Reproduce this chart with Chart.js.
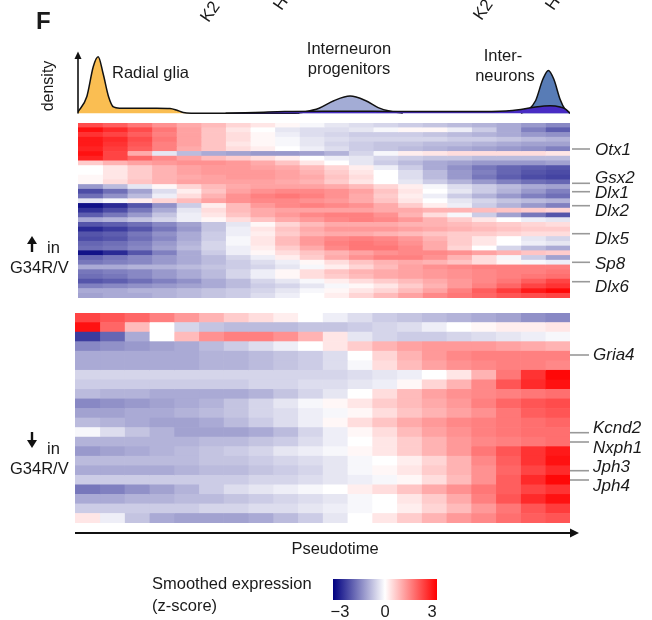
<!DOCTYPE html>
<html>
<head>
<meta charset="utf-8">
<script src="https://cdn.jsdelivr.net/npm/chart.js@4.4.1/dist/chart.umd.min.js"></script>
<style>
  html, body { margin:0; padding:0; background:#fff; }
  body { width:652px; height:620px; position:relative; overflow:hidden;
         font-family:"Liberation Sans", Arial, Helvetica, sans-serif; color:#1a1a1a; }
  .box { position:absolute; }
  .t { position:absolute; white-space:nowrap; line-height:1; font-size:16.5px; }
  .c { transform:translateY(-50%); }
  .gene { position:absolute; white-space:nowrap; line-height:1; font-size:17px; font-style:italic; transform:translateY(-50%); }
  svg { position:absolute; left:0; top:0; }
</style>
</head>
<body>

<!-- chart containers -->
<div class="box" id="densBox" style="left:78px;top:45px;width:492px;height:70px;"><canvas id="dens"></canvas></div>
<div class="box" id="hm1Box" style="left:78px;top:123px;width:492px;height:175px;"><canvas id="hm1"></canvas></div>
<div class="box" id="hm2Box" style="left:75px;top:313px;width:495px;height:210px;"><canvas id="hm2"></canvas></div>

<!-- decorations: arrows and gene tick lines -->
<svg width="652" height="620" viewBox="0 0 652 620">
  <!-- density axis arrow -->
  <line x1="78" y1="113.5" x2="78" y2="58" stroke="#111" stroke-width="1.6"/>
  <polygon points="74.5,59 81.5,59 78,51.5" fill="#111"/>
  <!-- pseudotime arrow -->
  <line x1="75" y1="533" x2="571" y2="533" stroke="#111" stroke-width="2"/>
  <polygon points="570,528.5 570,537.5 579,533" fill="#111"/>
  <!-- up arrow -->
  <line x1="32" y1="252" x2="32" y2="242" stroke="#111" stroke-width="2.4"/>
  <polygon points="27,244 37,244 32,236" fill="#111"/>
  <!-- down arrow -->
  <line x1="32" y1="432" x2="32" y2="442" stroke="#111" stroke-width="2.4"/>
  <polygon points="27,440 37,440 32,448" fill="#111"/>
  <!-- gene ticks -->
  <g stroke="#999" stroke-width="1.6">
    <line x1="572" y1="149" x2="590" y2="149"/>
    <line x1="572" y1="183.3" x2="590" y2="183.3"/>
    <line x1="572" y1="191.7" x2="590" y2="191.7"/>
    <line x1="572" y1="205.7" x2="590" y2="205.7"/>
    <line x1="572" y1="233.7" x2="590" y2="233.7"/>
    <line x1="572" y1="262.3" x2="590" y2="262.3"/>
    <line x1="572" y1="281.7" x2="590" y2="281.7"/>
    <line x1="570" y1="355" x2="589" y2="355"/>
    <line x1="570" y1="432.7" x2="589" y2="432.7"/>
    <line x1="570" y1="442" x2="589" y2="442"/>
    <line x1="570" y1="470.7" x2="589" y2="470.7"/>
    <line x1="570" y1="480" x2="589" y2="480"/>
  </g>
</svg>

<!-- texts -->
<div class="t" style="left:36px;top:9px;font-size:24px;font-weight:bold;">F</div>
<div class="t" style="left:211px;top:8px;font-size:17px;transform-origin:0 100%;transform:rotate(-55deg);">K2</div>
<div class="t" style="left:284px;top:-4px;font-size:17px;transform-origin:0 100%;transform:rotate(-55deg);">H</div>
<div class="t" style="left:484px;top:6px;font-size:17px;transform-origin:0 100%;transform:rotate(-55deg);">K2</div>
<div class="t" style="left:556px;top:-4px;font-size:17px;transform-origin:0 100%;transform:rotate(-55deg);">H</div>

<div class="t" style="left:48px;top:86px;font-size:16px;transform:translate(-50%,-50%) rotate(-90deg);">density</div>
<div class="t c" style="left:112px;top:72px;">Radial glia</div>
<div class="t" style="left:349px;top:48px;text-align:center;transform:translate(-50%,-50%);">Interneuron</div>
<div class="t" style="left:349px;top:68px;text-align:center;transform:translate(-50%,-50%);">progenitors</div>
<div class="t" style="left:503px;top:55px;transform:translate(-50%,-50%);">Inter-</div>
<div class="t" style="left:505px;top:75px;transform:translate(-50%,-50%);">neurons</div>

<div class="t c" style="left:47px;top:247px;">in</div>
<div class="t c" style="left:10px;top:267px;">G34R/V</div>
<div class="t c" style="left:47px;top:448px;">in</div>
<div class="t c" style="left:10px;top:468px;">G34R/V</div>

<div class="gene" style="left:595px;top:149px;">Otx1</div>
<div class="gene" style="left:595px;top:176.5px;">Gsx2</div>
<div class="gene" style="left:595px;top:192px;">Dlx1</div>
<div class="gene" style="left:595px;top:210px;">Dlx2</div>
<div class="gene" style="left:595px;top:238px;">Dlx5</div>
<div class="gene" style="left:595px;top:262.5px;">Sp8</div>
<div class="gene" style="left:595px;top:286px;">Dlx6</div>
<div class="gene" style="left:593px;top:353.5px;">Gria4</div>
<div class="gene" style="left:593px;top:426.5px;">Kcnd2</div>
<div class="gene" style="left:593px;top:446.5px;">Nxph1</div>
<div class="gene" style="left:593px;top:466px;">Jph3</div>
<div class="gene" style="left:593px;top:485px;">Jph4</div>

<div class="t" style="left:335px;top:548px;transform:translate(-50%,-50%);">Pseudotime</div>

<div class="t c" style="left:152px;top:583px;">Smoothed expression</div>
<div class="t c" style="left:152px;top:605px;">(z-score)</div>
<div class="box" style="left:333px;top:579px;width:104px;height:21px;background:linear-gradient(to right, rgb(0,0,128), #ffffff 50%, #ff0000);"></div>
<div class="t" style="left:340px;top:611px;transform:translate(-50%,-50%);">&minus;3</div>
<div class="t" style="left:385px;top:611px;transform:translate(-50%,-50%);">0</div>
<div class="t" style="left:432px;top:611px;transform:translate(-50%,-50%);">3</div>

<script>
// ---------------- DATA ----------------
// Density along pseudotime (x = pseudotime 0..1, y = relative density)
const radialGliaT = [0, 0.018, 0.031, 0.041, 0.051, 0.062, 0.072, 0.085, 0.12, 0.16, 0.187, 0.2, 0.214, 0.23, 0.3, 0.45];
const radialGliaD = [0.02, 0.27, 0.75, 0.91, 0.64, 0.27, 0.10, 0.08, 0.078, 0.08, 0.075, 0.05, 0.01, 0, 0, 0];

const progenitorT = [0.44, 0.46, 0.49, 0.52, 0.553, 0.585, 0.61, 0.635, 0.66];
const progenitorD = [0, 0.02, 0.08, 0.20, 0.275, 0.20, 0.09, 0.03, 0];

const interneuronT = [0.90, 0.915, 0.93, 0.945, 0.956, 0.967, 0.98, 0.99, 1.0];
const interneuronD = [0, 0.05, 0.20, 0.55, 0.69, 0.55, 0.22, 0.06, 0];

const otherT = [0.30, 0.36, 0.42, 0.50, 0.60, 0.70, 0.80, 0.87, 0.90, 0.93, 0.96, 0.98, 0.99, 1.0];
const otherD = [0, 0.01, 0.025, 0.03, 0.03, 0.025, 0.025, 0.035, 0.06, 0.10, 0.12, 0.10, 0.07, 0];

// Smoothed expression z-scores, 20 pseudotime bins per gene (rows top to bottom)
const upRows = [
  [2.1, 1.9, 1.6, 1.3, 1.0, 0.8, 0.5, 0.3, 0.1, -0.1, -0.3, -0.4, -0.5, -0.6, -0.7, -0.8, -0.9, -1.0, -1.2, -1.4],
  [2.8, 2.5, 2.1, 1.6, 1.1, 0.7, 0.3, 0.0, -0.3, -0.4, -0.4, -0.3, -0.1, 0.1, 0.1, -0.2, -0.6, -1.0, -1.5, -1.9],
  [2.4, 2.2, 1.9, 1.5, 1.1, 0.7, 0.4, 0.1, -0.2, -0.4, -0.5, -0.6, -0.6, -0.6, -0.7, -0.8, -0.9, -1.0, -1.2, -1.3],
  [2.7, 2.5, 2.1, 1.6, 1.1, 0.7, 0.4, 0.1, -0.1, -0.3, -0.4, -0.5, -0.5, -0.5, -0.5, -0.6, -0.6, -0.7, -0.8, -0.9],
  [2.7, 2.4, 2.0, 1.5, 1.1, 0.7, 0.3, 0.1, -0.1, -0.3, -0.5, -0.6, -0.7, -0.7, -0.8, -0.8, -0.9, -1.0, -1.1, -1.1],
  [2.6, 2.3, 1.9, 1.5, 1.0, 0.7, 0.4, 0.2, 0.0, -0.2, -0.4, -0.6, -0.7, -0.8, -0.9, -1.0, -1.1, -1.2, -1.3, -1.5],
  [2.8, 2.2, 1.0, -0.3, -0.8, -1.0, -1.1, -1.2, -1.2, -1.1, -0.9, -0.5, -0.1, 0.2, 0.3, 0.4, 0.4, 0.4, 0.4, 0.3],
  [2.6, 2.2, 1.8, 1.4, 1.1, 0.8, 0.6, 0.4, 0.2, 0.0, -0.2, -0.3, -0.5, -0.6, -0.7, -0.7, -0.8, -0.8, -0.8, -0.8],
  [0.6, 0.9, 1.1, 1.2, 1.3, 1.3, 1.2, 1.0, 0.7, 0.3, 0.0, -0.3, -0.6, -0.8, -1.0, -1.1, -1.2, -1.2, -1.2, -1.1],
  [0.0, 0.3, 0.6, 0.9, 1.1, 1.2, 1.2, 1.1, 1.0, 0.8, 0.5, 0.2, -0.2, -0.6, -1.0, -1.3, -1.6, -1.8, -1.9, -2.0],
  [0.0, 0.3, 0.6, 0.9, 1.1, 1.2, 1.2, 1.2, 1.1, 0.9, 0.6, 0.3, 0.0, -0.4, -0.8, -1.2, -1.5, -1.8, -2.0, -2.1],
  [0.1, 0.3, 0.6, 0.9, 1.0, 1.1, 1.2, 1.2, 1.1, 1.0, 0.7, 0.4, 0.0, -0.4, -0.8, -1.2, -1.6, -1.9, -2.1, -2.2],
  [0.1, 0.4, 0.7, 0.9, 1.1, 1.1, 1.1, 1.1, 1.0, 0.9, 0.6, 0.3, 0.0, -0.3, -0.6, -0.9, -1.2, -1.5, -1.7, -1.8],
  [-1.2, -0.8, -0.3, 0.1, 0.5, 0.8, 1.0, 1.1, 1.1, 1.1, 1.0, 0.8, 0.5, 0.2, -0.1, -0.4, -0.6, -0.8, -1.0, -1.1],
  [-2.1, -1.7, -1.1, -0.4, 0.2, 0.7, 1.1, 1.3, 1.4, 1.4, 1.3, 1.1, 0.7, 0.3, 0.0, -0.3, -0.6, -0.9, -1.2, -1.5],
  [-1.7, -1.3, -0.8, -0.2, 0.4, 0.9, 1.3, 1.5, 1.6, 1.5, 1.3, 1.0, 0.6, 0.2, -0.2, -0.6, -0.9, -1.2, -1.5, -1.7],
  [-0.3, -0.1, 0.2, 0.5, 0.8, 1.1, 1.3, 1.4, 1.4, 1.3, 1.2, 1.0, 0.7, 0.3, 0.0, -0.3, -0.5, -0.7, -0.8, -0.9],
  [-2.8, -2.5, -2.0, -1.3, -0.6, 0.2, 0.8, 1.2, 1.4, 1.5, 1.4, 1.3, 1.0, 0.6, 0.2, -0.2, -0.6, -0.9, -1.2, -1.5],
  [-2.4, -2.1, -1.6, -1.0, -0.3, 0.4, 0.8, 1.0, 1.1, 1.1, 1.1, 1.1, 1.0, 1.0, 0.9, 0.9, 0.8, 0.7, 0.6, 0.5],
  [-1.9, -1.6, -1.2, -0.7, -0.2, 0.3, 0.7, 1.0, 1.2, 1.4, 1.5, 1.5, 1.3, 0.9, 0.4, -0.1, -0.6, -1.1, -1.6, -2.0],
  [-1.0, -0.9, -0.7, -0.5, -0.2, 0.1, 0.4, 0.7, 1.0, 1.2, 1.4, 1.5, 1.4, 1.2, 0.9, 0.6, 0.3, 0.0, -0.2, -0.3],
  [-2.0, -1.9, -1.7, -1.4, -1.1, -0.7, -0.3, 0.1, 0.5, 0.8, 1.0, 1.0, 1.0, 0.9, 0.9, 0.8, 0.7, 0.6, 0.5, 0.4],
  [-2.5, -2.3, -2.0, -1.6, -1.2, -0.7, -0.2, 0.3, 0.7, 1.0, 1.2, 1.2, 1.2, 1.1, 1.0, 0.9, 0.8, 0.7, 0.6, 0.6],
  [-2.0, -1.9, -1.6, -1.3, -1.0, -0.6, -0.2, 0.2, 0.6, 0.9, 1.0, 1.0, 0.9, 0.8, 0.7, 0.6, 0.6, 0.5, 0.4, 0.4],
  [-2.1, -2.0, -1.7, -1.4, -1.0, -0.6, -0.1, 0.3, 0.8, 1.2, 1.4, 1.5, 1.4, 1.2, 0.9, 0.6, 0.3, 0.0, -0.3, -0.5],
  [-1.8, -1.7, -1.5, -1.2, -0.9, -0.5, -0.1, 0.3, 0.8, 1.2, 1.5, 1.6, 1.5, 1.3, 1.0, 0.6, 0.3, 0.0, -0.2, -0.3],
  [-1.7, -1.6, -1.4, -1.1, -0.8, -0.5, -0.2, 0.2, 0.6, 1.0, 1.4, 1.6, 1.6, 1.4, 1.0, 0.5, 0.0, -0.5, -0.8, -1.0],
  [-2.8, -2.5, -2.0, -1.5, -1.0, -0.6, -0.2, 0.1, 0.4, 0.7, 0.9, 1.1, 1.3, 1.4, 1.4, 1.3, 1.1, 0.9, 0.7, 0.6],
  [-1.8, -1.6, -1.4, -1.2, -1.0, -0.8, -0.5, -0.2, 0.2, 0.6, 1.0, 1.3, 1.5, 1.5, 1.3, 0.9, 0.4, -0.1, -0.6, -1.1],
  [-1.6, -1.5, -1.4, -1.2, -1.0, -0.8, -0.6, -0.4, -0.2, 0.1, 0.4, 0.7, 0.9, 1.0, 0.9, 0.7, 0.4, 0.1, -0.1, -0.2],
  [-1.0, -1.0, -0.9, -0.9, -0.8, -0.7, -0.6, -0.5, -0.3, -0.1, 0.2, 0.5, 0.8, 1.1, 1.3, 1.4, 1.5, 1.5, 1.5, 1.5],
  [-1.6, -1.5, -1.4, -1.2, -1.0, -0.8, -0.5, -0.2, 0.1, 0.4, 0.7, 0.9, 1.0, 1.1, 1.2, 1.3, 1.4, 1.5, 1.5, 1.6],
  [-1.7, -1.6, -1.4, -1.2, -1.0, -0.8, -0.5, -0.2, 0.1, 0.4, 0.6, 0.8, 1.0, 1.1, 1.2, 1.3, 1.4, 1.5, 1.6, 1.7],
  [-2.0, -1.9, -1.7, -1.5, -1.3, -1.0, -0.8, -0.5, -0.3, -0.1, 0.2, 0.4, 0.6, 0.8, 1.0, 1.2, 1.4, 1.6, 1.9, 2.2],
  [-1.5, -1.4, -1.3, -1.2, -1.1, -1.0, -0.8, -0.6, -0.5, -0.3, -0.1, 0.1, 0.3, 0.6, 0.9, 1.2, 1.5, 1.8, 2.2, 2.4],
  [-1.0, -1.0, -0.9, -0.9, -0.8, -0.7, -0.6, -0.5, -0.3, -0.1, 0.1, 0.3, 0.5, 0.8, 1.1, 1.5, 1.9, 2.3, 2.7, 2.9],
  [-1.1, -1.0, -1.0, -0.9, -0.8, -0.7, -0.6, -0.4, -0.2, 0.0, 0.2, 0.5, 0.8, 1.1, 1.4, 1.6, 1.8, 2.0, 2.1, 2.2]
];

const downRows = [
  [2.2, 2.0, 1.8, 1.5, 1.2, 0.9, 0.6, 0.4, 0.2, 0.0, -0.2, -0.4, -0.6, -0.7, -0.8, -0.9, -1.0, -1.1, -1.3, -1.4],
  [2.8, 1.8, 0.8, 0.0, -0.5, -0.7, -0.8, -0.8, -0.8, -0.7, -0.7, -0.6, -0.5, -0.4, -0.2, 0.0, 0.1, 0.2, 0.2, 0.3],
  [-2.3, -1.8, -1.0, 0.0, 0.8, 1.3, 1.5, 1.5, 1.3, 0.9, 0.3, -0.3, -0.5, -0.6, -0.6, -0.5, -0.4, -0.3, -0.2, -0.1],
  [-1.4, -1.3, -1.2, -1.1, -1.0, -0.8, -0.6, -0.4, -0.2, 0.0, 0.3, 0.6, 0.9, 1.1, 1.2, 1.2, 1.2, 1.1, 1.0, 0.9],
  [-1.0, -1.0, -1.0, -1.0, -1.0, -0.9, -0.9, -0.8, -0.7, -0.6, -0.4, 0.0, 0.5, 0.9, 1.2, 1.4, 1.5, 1.5, 1.5, 1.5],
  [-1.0, -1.0, -1.0, -1.0, -1.0, -0.9, -0.9, -0.8, -0.7, -0.6, -0.4, -0.1, 0.4, 0.8, 1.1, 1.3, 1.4, 1.5, 1.5, 1.4],
  [-0.5, -0.5, -0.5, -0.5, -0.5, -0.5, -0.5, -0.5, -0.5, -0.5, -0.5, -0.4, -0.3, -0.2, 0.0, 0.3, 0.9, 1.6, 2.4, 2.9],
  [-0.6, -0.6, -0.6, -0.6, -0.6, -0.6, -0.6, -0.5, -0.5, -0.4, -0.4, -0.3, -0.2, 0.1, 0.5, 0.9, 1.4, 2.0, 2.5, 2.8],
  [-0.8, -0.9, -0.9, -1.0, -1.0, -1.0, -1.0, -0.9, -0.7, -0.5, -0.3, 0.0, 0.4, 0.8, 1.1, 1.3, 1.4, 1.5, 1.6, 1.7],
  [-1.4, -1.3, -1.2, -1.1, -1.0, -0.9, -0.7, -0.5, -0.3, -0.1, 0.1, 0.3, 0.6, 0.8, 1.0, 1.2, 1.5, 1.8, 2.0, 2.1],
  [-1.1, -1.1, -1.0, -1.0, -0.9, -0.8, -0.7, -0.5, -0.4, -0.2, -0.1, 0.1, 0.4, 0.7, 0.9, 1.1, 1.3, 1.6, 1.9, 2.0],
  [-0.8, -0.9, -1.0, -1.1, -1.1, -1.0, -0.8, -0.6, -0.4, -0.2, 0.1, 0.4, 0.7, 1.0, 1.2, 1.4, 1.5, 1.6, 1.7, 1.8],
  [-0.1, -0.4, -0.7, -0.9, -1.1, -1.1, -1.1, -1.0, -0.8, -0.5, -0.2, 0.1, 0.4, 0.8, 1.1, 1.3, 1.5, 1.6, 1.7, 1.7],
  [-0.9, -0.9, -0.9, -0.9, -0.9, -0.8, -0.8, -0.7, -0.6, -0.4, -0.2, 0.0, 0.3, 0.6, 0.9, 1.2, 1.4, 1.5, 1.6, 1.7],
  [-1.2, -1.1, -1.0, -0.9, -0.8, -0.7, -0.6, -0.5, -0.3, -0.2, -0.1, 0.1, 0.3, 0.6, 0.9, 1.2, 1.6, 2.0, 2.4, 2.7],
  [-0.8, -0.8, -0.8, -0.8, -0.8, -0.7, -0.7, -0.6, -0.5, -0.4, -0.3, -0.1, 0.0, 0.2, 0.5, 0.9, 1.4, 1.9, 2.4, 2.8],
  [-1.0, -1.0, -1.0, -1.0, -0.9, -0.8, -0.8, -0.7, -0.6, -0.5, -0.3, -0.1, 0.1, 0.3, 0.6, 0.9, 1.3, 1.8, 2.2, 2.5],
  [-0.6, -0.6, -0.6, -0.6, -0.6, -0.6, -0.6, -0.5, -0.5, -0.4, -0.3, -0.2, -0.1, 0.1, 0.4, 0.8, 1.3, 1.9, 2.5, 2.9],
  [-1.6, -1.5, -1.3, -1.1, -0.9, -0.6, -0.4, -0.3, -0.2, -0.1, 0.0, 0.2, 0.4, 0.7, 1.0, 1.3, 1.6, 1.9, 2.2, 2.4],
  [-1.0, -1.0, -0.9, -0.9, -0.8, -0.8, -0.7, -0.6, -0.5, -0.4, -0.3, -0.1, 0.0, 0.3, 0.6, 1.0, 1.5, 2.0, 2.5, 2.8],
  [-0.6, -0.6, -0.6, -0.6, -0.6, -0.5, -0.5, -0.4, -0.4, -0.3, -0.2, -0.1, 0.0, 0.2, 0.5, 0.8, 1.2, 1.6, 2.0, 2.3],
  [0.3, -0.2, -0.7, -1.0, -1.1, -1.1, -1.1, -1.0, -0.8, -0.6, -0.3, 0.0, 0.3, 0.6, 0.9, 1.2, 1.4, 1.7, 1.9, 2.0]
];

// ---------------- RENDERING ----------------
function zColor(z) {
  z = Math.max(-3, Math.min(3, z));
  let r, g, b;
  if (z >= 0) {
    const t = z / 3;
    r = 255; g = b = Math.round(255 * (1 - t));
  } else {
    const t = -z / 3;
    r = g = Math.round(255 * (1 - t));
    b = Math.round(255 - 127 * t);
  }
  return `rgb(${r},${g},${b})`;
}

function heatmap(id, rows) {
  const nCol = rows[0].length;
  const datasets = [];
  for (let j = 0; j < nCol; j++) {
    datasets.push({
      data: rows.map(() => 1),
      backgroundColor: rows.map(r => zColor(r[j])),
      borderWidth: 0,
      barPercentage: 1,
      categoryPercentage: 1
    });
  }
  new Chart(document.getElementById(id), {
    type: 'bar',
    data: { labels: rows.map((_, i) => 'gene' + (i + 1)), datasets },
    options: {
      indexAxis: 'y',
      responsive: true,
      maintainAspectRatio: false,
      animation: false,
      layout: { padding: 0 },
      plugins: { legend: { display: false }, tooltip: { enabled: false } },
      scales: {
        x: { stacked: true, display: false, min: 0, max: nCol },
        y: { stacked: true, display: false }
      }
    }
  });
}

heatmap('hm1', upRows);
heatmap('hm2', downRows);

function pts(t, d) { return t.map((x, i) => ({ x, y: d[i] })); }

new Chart(document.getElementById('dens'), {
  type: 'line',
  data: {
    datasets: [
      { label: 'Other', data: pts(otherT, otherD), backgroundColor: 'rgb(72,44,196)', order: 0 },
      { label: 'Interneurons', data: pts(interneuronT, interneuronD), backgroundColor: 'rgb(88,124,182)', order: 1 },
      { label: 'Interneuron progenitors', data: pts(progenitorT, progenitorD), backgroundColor: 'rgb(163,172,213)', order: 2 },
      { label: 'Radial glia', data: pts(radialGliaT, radialGliaD), backgroundColor: 'rgb(250,190,82)', order: 3 }
    ].map(ds => Object.assign(ds, {
      fill: 'origin', borderColor: '#111', borderWidth: 1.5, pointRadius: 0,
      cubicInterpolationMode: 'monotone'
    }))
  },
  options: {
    responsive: true,
    maintainAspectRatio: false,
    animation: false,
    layout: { padding: 0 },
    plugins: { legend: { display: false }, tooltip: { enabled: false } },
    scales: {
      x: { type: 'linear', min: 0, max: 1, display: false },
      y: { min: -0.03, max: 1.1, display: false }
    }
  }
});
</script>
</body>
</html>
